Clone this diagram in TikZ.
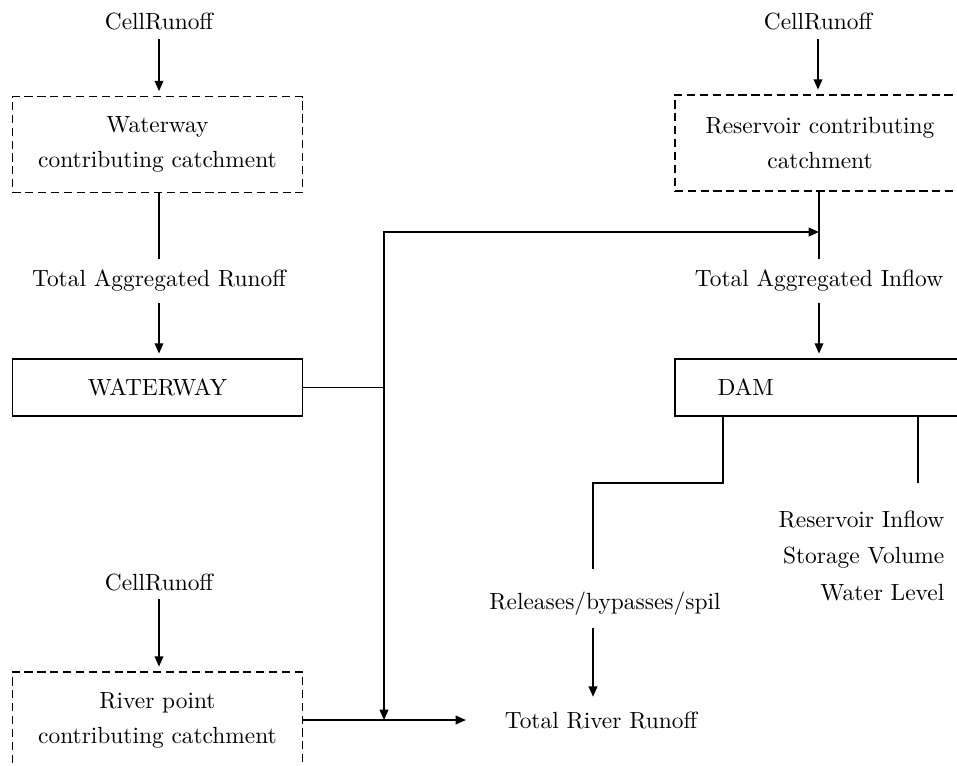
\documentclass[tikz,border=0pt]{standalone}
\usepackage{tikz}
\usetikzlibrary{
  arrows.meta,
  positioning
}

\begin{document}
\begin{tikzpicture}[x=0.4274pt, y=-0.4274pt, line width=0.6pt,
  catch/.style={draw, dash pattern=on 3.5pt off 2pt, minimum width=124.1pt, minimum height=41pt, align=center},
  unit/.style={draw, minimum width=124.1pt, minimum height=24.4pt},
  flow/.style={inner sep=4.5pt},
  arr/.style={-{Triangle[length=4.4pt,width=3.7pt]}},
  into/.style={arr, shorten >=2pt}]
  \useasboundingbox (0,0) rectangle (957,765);
  \clip (0,0) rectangle (957,765);

  \node (cr1) at (159,22) {CellRunoff};
  \node[catch] (wcatch) at (157.5,144.5) {Waterway\\[3pt]contributing catchment};
  \node[flow] (wagg) at (159,281) {Total Aggregated Runoff};
  \node[unit] (waterway) at (157.5,387.5) {WATERWAY};

  \node (cr2) at (818,22) {CellRunoff};
  \node[catch] (rcatch) at (820,143) {Reservoir contributing\\[3pt]catchment};
  \node[flow] (ragg) at (819,281) {Total Aggregated Inflow};
  \node[unit, inner xsep=18.3pt, text width=87.5pt, align=left] (dam) at (820,387.5) {DAM};

  \node[inner sep=5pt] (rel) at (605,604) {Releases/bypasses/spil};
  \node[inner sep=6pt] (out) at (601,720) {Total River Runoff};
  \node[inner sep=0pt, anchor=north east, align=right] (stats) at (945,510) {Reservoir Inflow\\[3.7pt]Storage Volume\\[3.7pt]Water Level};

  \node (cr3) at (159,582) {CellRunoff};
  \node[catch] (rpcatch) at (157.5,720) {River point\\[3pt]contributing catchment};

  \coordinate (split) at (384,387.5);
  \coordinate (feed) at (819,232);
  \coordinate (relTop) at (723,483);
  \coordinate (relBend) at (593,483);
  \coordinate (statTop) at (918,483);

  \draw[into] (cr1) -- (cr1 |- wcatch.north);
  \draw (wcatch.south -| wagg) -- (wagg.north);
  \draw[into] (wagg.south) -- (wagg |- waterway.north);

  \draw[into] (cr2) -- (cr2 |- rcatch.north);
  \draw (rcatch.south -| feed) -- (feed |- ragg.north);
  \draw[into] (ragg.south -| feed) -- (feed |- dam.north);

  \draw (waterway.east) -- (waterway.east -| split);
  \draw[arr] (waterway.east -| split) |- (feed);
  \draw[arr] (waterway.east -| split) -- (split |- rpcatch.east);

  \draw[into] (cr3) -- (cr3 |- rpcatch.north);
  \draw[arr, shorten >=10.3pt] (rpcatch.east) -- (out.west |- rpcatch.east);

  \draw[shorten >=4.5pt] (dam.south -| relTop) -- (relTop) -- (relBend) -- (relBend |- rel.north);
  \draw[arr] (rel.south -| relBend) -- (relBend |- out.north);
  \draw (dam.south -| statTop) -- (statTop);
\end{tikzpicture}
\end{document}
